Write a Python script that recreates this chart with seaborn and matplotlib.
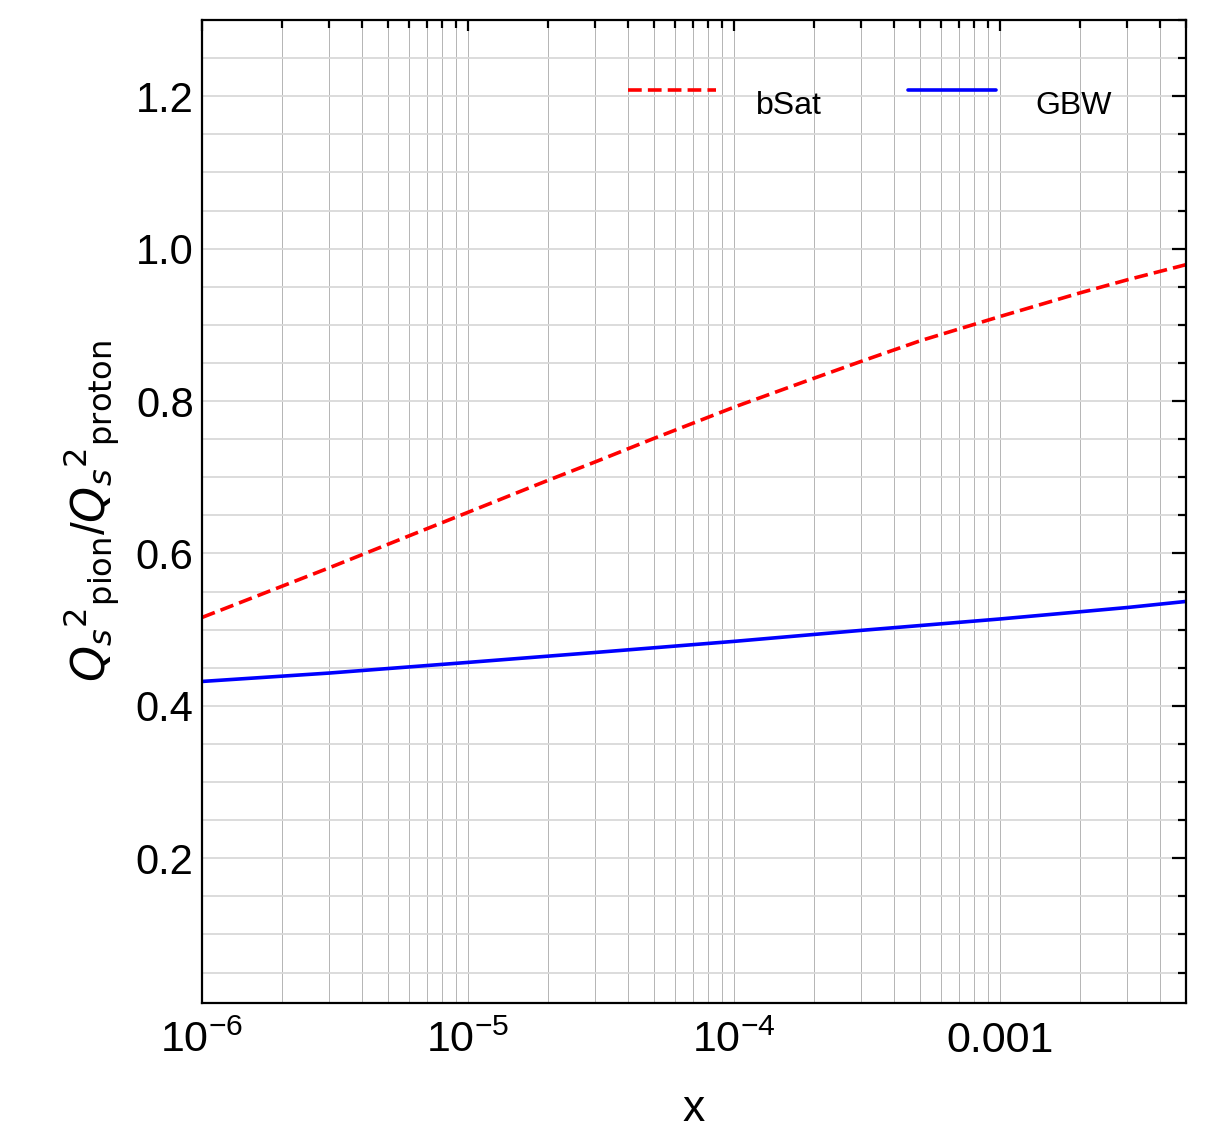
import numpy as np
import pandas as pd
import matplotlib
matplotlib.use("Agg")
import matplotlib.pyplot as plt
import matplotlib.ticker as mticker
from matplotlib.legend_handler import HandlerLine2D
import seaborn as sns

# Saturation-scale ratio Q_s^2(pion) / Q_s^2(proton) versus Bjorken x
x_bsat = [1e-6, 2e-6, 3e-6, 5e-6, 1e-5, 2e-5, 3e-5, 5e-5,
          1e-4, 2e-4, 3e-4, 5e-4, 1e-3, 2e-3, 3e-3, 5e-3]
ratio_bsat = [0.516, 0.557, 0.581, 0.612, 0.654, 0.696, 0.720, 0.751,
              0.792, 0.830, 0.852, 0.879, 0.911, 0.942, 0.959, 0.979]

x_gbw = [1e-6, 3e-6, 1e-5, 3e-5, 1e-4, 3e-4, 1e-3, 3e-3, 5e-3]
ratio_gbw = [0.432, 0.443, 0.457, 0.470, 0.4846, 0.499, 0.514, 0.529, 0.537]

model_names = ["bSat", "GBW"]
x_tick_values = [1e-6, 1e-5, 1e-4, 1e-3]
x_tick_labels = [r"$10^{-6}$", r"$10^{-5}$", r"$10^{-4}$", "0.001"]
y_tick_values = [0.2, 0.4, 0.6, 0.8, 1.0, 1.2]

df = pd.concat([
    pd.DataFrame({"x": x_bsat, "ratio": ratio_bsat, "model": model_names[0]}),
    pd.DataFrame({"x": x_gbw, "ratio": ratio_gbw, "model": model_names[1]}),
], ignore_index=True)

sns.set_theme(style="white")
plt.rcParams["font.family"] = ["Liberation Sans", "DejaVu Sans"]
plt.rcParams["mathtext.fontset"] = "custom"
plt.rcParams["mathtext.rm"] = "Liberation Sans"
plt.rcParams["mathtext.it"] = "DejaVu Sans:italic"
plt.rcParams["mathtext.sf"] = "DejaVu Sans"
plt.rcParams["axes.unicode_minus"] = False
plt.rcParams["text.color"] = "black"
plt.rcParams["axes.labelcolor"] = "black"
plt.rcParams["xtick.color"] = "black"
plt.rcParams["ytick.color"] = "black"

fig = plt.figure(figsize=(12.14, 11.39), dpi=100)
ax = fig.add_axes([0.1664, 0.1194, 0.8106, 0.8630])
ax.set_xscale("log")

styles = {"bSat": dict(color="#ff0000", dashes=(3.8, 1.7)),
          "GBW": dict(color="#0000ff")}
for name in model_names:
    sub = df[df["model"] == name]
    st = styles[name]
    sns.lineplot(data=sub, x="x", y="ratio", ax=ax, color=st["color"],
                 linewidth=2.6, label=name, estimator=None, sort=True)
    if "dashes" in st:
        ax.lines[-1].set_dashes(st["dashes"])

ax.set_xlim(1e-6, 5e-3)
ax.set_ylim(0.01, 1.3)

# ticks
ax.xaxis.set_major_locator(mticker.FixedLocator(x_tick_values))
ax.xaxis.set_major_formatter(mticker.FixedFormatter(x_tick_labels))
ax.xaxis.set_minor_locator(mticker.LogLocator(base=10, subs=np.arange(2, 10)))
ax.xaxis.set_minor_formatter(mticker.NullFormatter())
ax.yaxis.set_major_locator(mticker.FixedLocator(y_tick_values))
ax.yaxis.set_major_formatter(mticker.FormatStrFormatter("%.1f"))
ax.yaxis.set_minor_locator(mticker.MultipleLocator(0.05))

ax.tick_params(which="both", direction="in", top=True, right=True,
               color="black", width=1.6)
ax.tick_params(axis="y", which="major", length=10, labelsize=30, pad=6)
ax.tick_params(axis="y", which="minor", length=6)
ax.tick_params(axis="x", which="major", length=8, labelsize=31, pad=13)
ax.tick_params(axis="x", which="minor", length=6)

ax.grid(axis="x", which="both", color="#b4b4b4", linewidth=0.7)
ax.grid(axis="y", which="both", color="#d9d9d9", linewidth=1.3)
ax.set_axisbelow(True)

for sp in ax.spines.values():
    sp.set_color("black")
    sp.set_linewidth(1.6)

ax.set_xlabel("x", fontsize=32, labelpad=20)
ax.set_ylabel(r"$Q_s{}^{\mathsf{2}}{}_{\mathsf{pion}}/Q_s{}^{\mathsf{2}}{}_{\mathsf{proton}}$",
              fontsize=33, labelpad=10)


class RaisedLine(HandlerLine2D):
    """Legend line drawn a little above the text centre."""

    def create_artists(self, legend, orig_handle, xdescent, ydescent,
                       width, height, fontsize, trans):
        arts = super().create_artists(legend, orig_handle, xdescent, ydescent,
                                      width, height, fontsize, trans)
        for a in arts:
            if hasattr(a, "get_ydata"):
                a.set_ydata(np.asarray(a.get_ydata()) + 9)
        return arts


handles, labels = ax.get_legend_handles_labels()
ax.legend(handles, labels, ncol=2, frameon=False, fontsize=23,
          loc="upper right", bbox_to_anchor=(0.925, 0.928),
          borderaxespad=0, borderpad=0, handlelength=2.75,
          handletextpad=1.25, columnspacing=2.7,
          handler_map={matplotlib.lines.Line2D: RaisedLine()})

fig.savefig("out.png", dpi=100)
